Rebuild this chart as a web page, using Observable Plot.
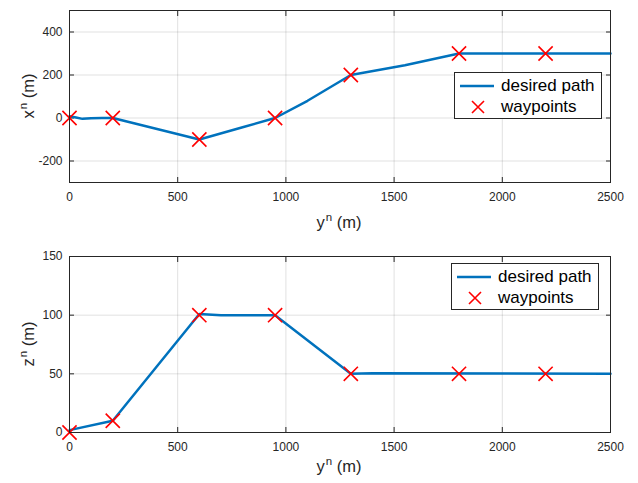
<!DOCTYPE html>
<html>
<head>
<meta charset="utf-8">
<script src="https://cdn.jsdelivr.net/npm/d3@7"></script>
<script src="https://cdn.jsdelivr.net/npm/@observablehq/plot@0.6"></script>
<style>
  html, body { margin: 0; padding: 0; background: #fff; }
  #wrap { position: relative; width: 638px; height: 483px; font-family: "Liberation Sans", Arial, sans-serif; }
  .legend { position: absolute; background: #fff; border: 1px solid #262626; box-sizing: border-box; font-size: 17px; color: #000; }
  .legend .row { position: absolute; left: 0; display: flex; align-items: center; height: 20px; }
  .legend svg { display: block; }
  .lab { position: absolute; font-size: 16.5px; color: #262626; white-space: nowrap; line-height: 1; }
  .lab sup { font-size: 11.5px; vertical-align: 0; position: relative; top: -7px; margin-left: 1px; }
  .xlab { transform: translate(-50%, -50%); }
  .ylab { transform: translate(-50%, -50%) rotate(-90deg); }
</style>
</head>
<body>
<div id="wrap"></div>
<script>
// Waypoints (east y^n, north x^n, down z^n)
const wpY = [0, 200, 600, 950, 1300, 1800, 2200];
const wpX = [0, 0, -100, 0, 200, 300, 300];
const wpZ = [0, 10, 100, 100, 50, 50, 50];

// Desired path, horizontal
const pathY = [0, 30, 60, 100, 150, 200, 400, 600, 800, 950, 1100, 1300, 1550, 1800, 1900, 2200, 2500];
const pathX = [8, 2, -4, -1, 0, 0, -50, -100, -43, 0, 80, 200, 245, 300, 300, 300, 300];

// Desired path, vertical
const pathZY = [0, 200, 600, 700, 950, 1300, 1400, 2500];
const pathZ = [2, 10, 101, 100, 100, 50, 50.5, 50];

const xTicks = [0, 500, 1000, 1500, 2000, 2500];
const topTicks = [-200, 0, 200, 400];
const botTicks = [0, 50, 100, 150];

const blue = "#0072BD";
const axisColor = "#262626";

const wp = wpY.map((y, i) => ({y, x: wpX[i], z: wpZ[i]}));
const p1 = pathY.map((y, i) => ({y, x: pathX[i]}));
const p2 = pathZY.map((y, i) => ({y, z: pathZ[i]}));

const fmt = d => String(d);

function common(yTicks) {
  return [
    Plot.gridX(xTicks, {stroke: "#000", strokeOpacity: 0.12}),
    Plot.gridY(yTicks, {stroke: "#000", strokeOpacity: 0.12}),
    Plot.axisX(xTicks, {anchor: "bottom", tickSize: -5, tickPadding: 15, fontSize: 12, color: axisColor, tickFormat: fmt, label: null}),
    Plot.axisX(xTicks, {anchor: "top", tickSize: -5, tickFormat: () => "", label: null, color: axisColor}),
    Plot.axisY(yTicks, {anchor: "left", tickSize: -5, tickPadding: 12, fontSize: 12, color: axisColor, tickFormat: fmt, label: null}),
    Plot.axisY(yTicks, {anchor: "right", tickSize: -5, tickFormat: () => "", label: null, color: axisColor}),
  ];
}

const chartTop = Plot.plot({
  width: 638, height: 240,
  marginLeft: 69, marginRight: 28, marginTop: 10, marginBottom: 58,
  style: {fontFamily: "Liberation Sans, Arial, sans-serif", fontSize: "12px", color: axisColor, background: "#fff"},
  x: {domain: [0, 2500]},
  y: {domain: [-300, 500]},
  marks: [
    ...common(topTicks),
    Plot.line(p1, {x: "y", y: "x", stroke: blue, strokeWidth: 2.5}),
    Plot.dot(wp, {x: "y", y: "x", symbol: "times", r: 6.5, stroke: "#FF0000", strokeWidth: 1.6}),
    Plot.frame({stroke: axisColor, strokeWidth: 1})
  ]
});

const chartBot = Plot.plot({
  width: 638, height: 243,
  marginLeft: 69, marginRight: 28, marginTop: 16, marginBottom: 51,
  style: {fontFamily: "Liberation Sans, Arial, sans-serif", fontSize: "12px", color: axisColor, background: "#fff"},
  x: {domain: [0, 2500]},
  y: {domain: [0, 150]},
  marks: [
    ...common(botTicks),
    Plot.line(p2, {x: "y", y: "z", stroke: blue, strokeWidth: 2.5}),
    Plot.dot(wp, {x: "y", y: "z", symbol: "times", r: 6.5, stroke: "#FF0000", strokeWidth: 1.6}),
    Plot.frame({stroke: axisColor, strokeWidth: 1})
  ]
});

const wrap = document.getElementById("wrap");
chartTop.style.display = "block";
chartBot.style.display = "block";
wrap.appendChild(chartTop);
wrap.appendChild(chartBot);

function label(html, cls, left, topPx) {
  const d = document.createElement("div");
  d.className = "lab " + cls;
  d.style.left = left + "px";
  d.style.top = topPx + "px";
  d.innerHTML = html;
  wrap.appendChild(d);
}
label("y<sup>n</sup> (m)", "xlab", 339, 222);
label("x<sup>n</sup> (m)", "ylab", 28, 96);
label("y<sup>n</sup> (m)", "xlab", 339, 466);
label("z<sup>n</sup> (m)", "ylab", 28, 344);

function legend(left, topPx) {
  const d = document.createElement("div");
  d.className = "legend";
  d.style.left = left + "px";
  d.style.top = topPx + "px";
  d.style.width = "148px";
  d.style.height = "47px";
  d.innerHTML = `
    <div class="row" style="top:3px;left:4px">
      <svg width="36" height="20"><line x1="1" x2="35" y1="10" y2="10" stroke="${blue}" stroke-width="2.5"/></svg>
      <span style="margin-left:6px">desired path</span>
    </div>
    <div class="row" style="top:24px;left:4px">
      <svg width="36" height="20"><path d="M13,4L25,16M25,4L13,16" stroke="#FF0000" stroke-width="1.6"/></svg>
      <span style="margin-left:6px">waypoints</span>
    </div>`;
  wrap.appendChild(d);
}
legend(454, 72);
legend(451, 263);
</script>
</body>
</html>
